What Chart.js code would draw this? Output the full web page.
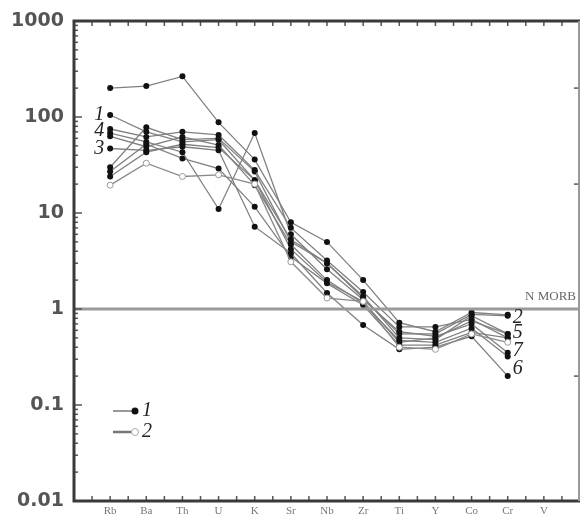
<!DOCTYPE html>
<html>
<head>
<meta charset="utf-8">
<script src="https://cdn.jsdelivr.net/npm/chart.js@4"></script>
<style>
  html, body { margin: 0; padding: 0; background: #fff; }
  #wrap { width: 585px; height: 519px; }
</style>
</head>
<body>
<div id="wrap"><canvas id="myChart" width="585" height="519"></canvas></div>
<script>
const elements = ['Rb', 'Ba', 'Th', 'U', 'K', 'Sr', 'Nb', 'Zr', 'Ti', 'Y', 'Co', 'Cr', 'V'];

// type 1 samples (filled dots)
const s1 = [200, 210, 265, 88, 36, 8, 5, 2.0, 0.72, 0.58, 0.92, 0.87];
const s2 = [105, 70, 55, 58, 22, 5.3, 3.0, 1.35, 0.5, 0.48, 0.85, 0.55];
const s3 = [75, 62, 70, 65, 28, 7, 3.2, 1.5, 0.65, 0.65, 0.78, 0.5];
const s4 = [68, 55, 43, 11, 68, 6, 2.6, 1.25, 0.58, 0.52, 0.7, 0.35];
const s5 = [63, 49, 62, 51, 19.5, 4.7, 2.0, 1.15, 0.47, 0.45, 0.63, 0.32];
const s6 = [47, 45, 49, 45, 7.2, 3.8, 1.47, 0.68, 0.38, 0.4, 0.52, 0.2];
const s7 = [30, 78, 58, 60, 27, 5, 3.0, 1.3, 0.55, 0.55, 0.88, 0.85];
const s8 = [27, 52, 37, 29, 11.6, 3.5, 1.85, 1.1, 0.42, 0.42, 0.57, 0.5];
const s9 = [24, 43, 52, 48, 22, 4.2, 1.9, 1.2, 0.45, 0.5, 0.75, 0.55];
// type 2 sample (open dots)
const t1 = [19.5, 33, 24, 25, 20, 3.1, 1.3, 1.2, 0.4, 0.38, 0.55, 0.45];

const filledSeries = [s1, s2, s3, s4, s5, s6, s7, s8, s9];
const openSeries = [t1];

const yTickValues = [0.01, 0.1, 1, 10, 100, 1000];
const yTickLabels = ['0.01', '0.1', '1', '10', '100', '1000'];

const morbValue = 1;
const leftLabels = [['1', 105], ['4', 72], ['3', 47]];
const rightLabels = [['2', 0.82], ['5', 0.56], ['7', 0.37], ['6', 0.24]];
const legendLabels = ['1', '2'];

function toPoints(values) {
    return values.map((v, i) => ({ x: i + 1, y: v }));
}

const datasets = [];

datasets.push({
    data: [{ x: 0, y: morbValue }, { x: 14, y: morbValue }],
    borderColor: '#9a9a9a',
    borderWidth: 3,
    pointRadius: 0,
});

openSeries.forEach((s) => {
    datasets.push({
        data: toPoints(s),
        borderColor: '#8a8a8a',
        borderWidth: 1.3,
        pointRadius: 3,
        pointBackgroundColor: '#fff',
        pointBorderColor: '#999',
        pointBorderWidth: 1,
    });
});

filledSeries.forEach((s) => {
    datasets.push({
        data: toPoints(s),
        borderColor: '#808080',
        borderWidth: 1.3,
        pointRadius: 3,
        pointBackgroundColor: '#111',
        pointBorderColor: '#111',
        pointBorderWidth: 0,
    });
});

const framePlugin = {
    id: 'frame',
    afterDatasetsDraw(chart) {
        const ctx = chart.ctx;
        const a = chart.chartArea;
        const xs = chart.scales.x;
        const ys = chart.scales.y;
        ctx.save();

        // inward ticks on x (top and bottom)
        ctx.strokeStyle = '#555';
        ctx.lineWidth = 1.5;
        for (let v = 0.5; v < 14; v += 0.5) {
            const px = xs.getPixelForValue(v);
            ctx.beginPath();
            ctx.moveTo(px, a.bottom);
            ctx.lineTo(px, a.bottom - 5);
            ctx.moveTo(px, a.top);
            ctx.lineTo(px, a.top + 5);
            ctx.stroke();
        }

        // log ticks on the left
        for (let d = -2; d < 3; d++) {
            for (let m = 1; m < 10; m++) {
                const py = ys.getPixelForValue(m * Math.pow(10, d));
                const len = m === 1 ? 8 : 4;
                ctx.beginPath();
                ctx.moveTo(a.left, py);
                ctx.lineTo(a.left + len, py);
                ctx.stroke();
            }
        }

        // few ticks on the right
        [200, 20, 0.2].forEach((v) => {
            const py = ys.getPixelForValue(v);
            ctx.beginPath();
            ctx.moveTo(a.right, py);
            ctx.lineTo(a.right - 6, py);
            ctx.stroke();
        });

        // frame
        ctx.strokeStyle = '#3a3a3a';
        ctx.lineWidth = 3;
        ctx.beginPath();
        ctx.moveTo(a.right, a.top);
        ctx.lineTo(a.left, a.top);
        ctx.lineTo(a.left, a.bottom);
        ctx.lineTo(a.right, a.bottom);
        ctx.stroke();
        ctx.strokeStyle = '#999';
        ctx.lineWidth = 2;
        ctx.beginPath();
        ctx.moveTo(a.right - 1, a.top);
        ctx.lineTo(a.right - 1, a.bottom);
        ctx.stroke();

        // N MORB
        ctx.fillStyle = '#666';
        ctx.font = '13px "Liberation Serif"';
        ctx.textAlign = 'right';
        ctx.textBaseline = 'alphabetic';
        ctx.fillText('N MORB', a.right - 4, ys.getPixelForValue(morbValue) - 9);

        // sample numbers
        ctx.fillStyle = '#222';
        ctx.font = 'italic 20px "Liberation Serif"';
        ctx.textBaseline = 'middle';
        ctx.textAlign = 'right';
        leftLabels.forEach(([t, v]) => {
            ctx.fillText(t, xs.getPixelForValue(1) - 6, ys.getPixelForValue(v));
        });
        ctx.textAlign = 'left';
        rightLabels.forEach(([t, v]) => {
            ctx.fillText(t, xs.getPixelForValue(12) + 5, ys.getPixelForValue(v));
        });

        // legend
        const lx0 = a.left + 39;
        const lx1 = a.left + 61;
        [0, 1].forEach((i) => {
            const ly = a.top + 390 + i * 21;
            ctx.strokeStyle = '#777';
            ctx.lineWidth = i === 0 ? 1.5 : 2.5;
            ctx.beginPath();
            ctx.moveTo(lx0, ly);
            ctx.lineTo(lx1, ly);
            ctx.stroke();
            ctx.beginPath();
            ctx.arc(lx1, ly, 3.5, 0, Math.PI * 2);
            ctx.fillStyle = i === 0 ? '#111' : '#fff';
            ctx.fill();
            if (i === 1) {
                ctx.strokeStyle = '#aaa';
                ctx.lineWidth = 1;
                ctx.stroke();
            }
            ctx.fillStyle = '#222';
            ctx.textAlign = 'left';
            ctx.fillText(legendLabels[i], lx1 + 7, ly);
        });

        ctx.restore();
    }
};

const ctx = document.getElementById('myChart');

const chart = new Chart(ctx, {
    type: 'line',
    data: { datasets: datasets },
    options: {
        responsive: false,
        animation: false,
        layout: { padding: { top: 21, right: 3, left: 0, bottom: 0 } },
        plugins: {
            legend: { display: false },
            tooltip: { enabled: false },
        },
        scales: {
            x: {
                type: 'linear',
                min: 0,
                max: 14,
                grid: { display: false, drawTicks: false, tickLength: 0 },
                border: { display: false },
                afterBuildTicks: (scale) => {
                    scale.ticks = elements.map((e, i) => ({ value: i + 1 }));
                },
                afterFit: (scale) => {
                    scale.height = 18;
                    scale.paddingLeft = 0;
                    scale.paddingRight = 0;
                },
                ticks: {
                    autoSkip: false,
                    maxRotation: 0,
                    padding: 4,
                    color: '#777',
                    font: { family: 'Liberation Serif', size: 11 },
                    callback: (v) => elements[v - 1] || '',
                },
            },
            y: {
                type: 'logarithmic',
                min: 0.01,
                max: 1000,
                grid: { display: false, drawTicks: false, tickLength: 0 },
                border: { display: false },
                afterBuildTicks: (scale) => {
                    scale.ticks = yTickValues.map((v) => ({ value: v }));
                },
                afterFit: (scale) => {
                    scale.width = 74;
                    scale.paddingTop = 0;
                    scale.paddingBottom = 0;
                },
                ticks: {
                    padding: 10,
                    color: '#555',
                    font: { family: 'DejaVu Sans', size: 19, weight: 'bold' },
                    callback: (v) => yTickLabels[yTickValues.indexOf(v)] || '',
                },
            },
        },
    },
    plugins: [framePlugin],
});
</script>
</body>
</html>
